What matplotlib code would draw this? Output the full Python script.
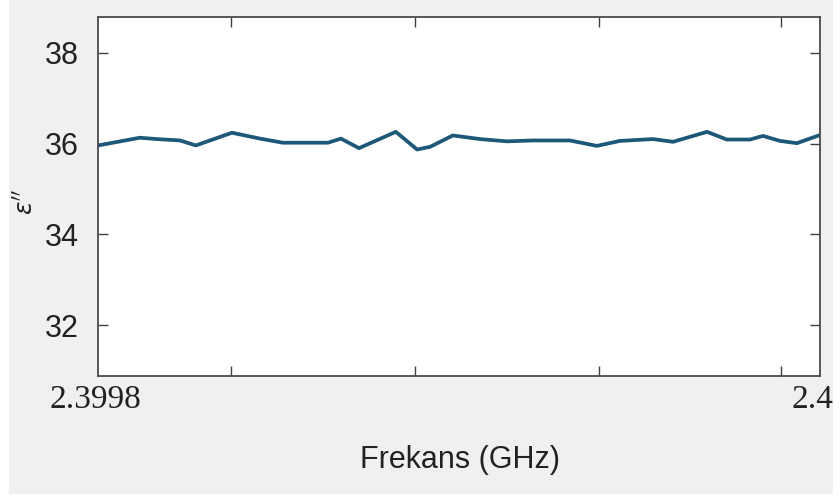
import matplotlib.pyplot as plt
from matplotlib.patches import Rectangle
from matplotlib.transforms import ScaledTranslation

# frequency sweep (GHz) and imaginary permittivity
freq_ghz = [2.3998, 2.3998116, 2.3998163, 2.3998227, 2.3998271, 2.3998371,
            2.3998449, 2.3998512, 2.3998637, 2.3998673, 2.3998723, 2.3998825,
            2.3998884, 2.399892, 2.3998983, 2.3999058, 2.3999133, 2.3999205,
            2.3999307, 2.3999382, 2.3999446, 2.3999537, 2.3999593, 2.3999687,
            2.3999742, 2.3999806, 2.3999842, 2.3999889, 2.3999936, 2.4]
eps_imag = [35.96, 36.13, 36.10, 36.07, 35.96, 36.24,
            36.11, 36.02, 36.02, 36.11, 35.90, 36.26,
            35.87, 35.93, 36.18, 36.10, 36.05, 36.07,
            36.07, 35.95, 36.06, 36.10, 36.04, 36.26,
            36.09, 36.09, 36.17, 36.06, 36.01, 36.19]

x_labels = ["2.3998", "2.4"]
x_label_pos = [2.3998, 2.4]
x_minor = [2.3998368, 2.3998878, 2.3999388, 2.3999892]
y_ticks = [32, 34, 36, 38]

fig = plt.figure(figsize=(8.4, 4.97), dpi=100)
fig.patch.set_facecolor("white")
fig.patches.append(Rectangle((9 / 840, 3 / 497), 824 / 840, 494 / 497,
                             transform=fig.transFigure, facecolor="#f0f0f0",
                             edgecolor="none", zorder=-10))

ax = fig.add_axes([98 / 840, 1 - 376 / 497, 722 / 840, 359 / 497])
ax.set_facecolor("white")
ax.plot(freq_ghz, eps_imag, color="#1d5878", linewidth=2.7)

ax.set_xlim(2.3998, 2.4)
ax.set_ylim(30.88, 38.79)

ax.set_yticks(y_ticks)
ax.set_yticklabels([str(v) for v in y_ticks], fontsize=22,
                   fontfamily="Liberation Sans", color="#222222")
ax.set_xticks(x_label_pos)
ax.set_xticklabels(x_labels, fontsize=24, fontfamily="Liberation Serif",
                   color="#222222")
ax.set_xticks(x_minor, minor=True)

ax.tick_params(axis="both", which="both", direction="in", top=True, right=True,
               length=7, width=1.0, color="#404040")
ax.tick_params(axis="x", which="major", length=0, pad=6)
ax.tick_params(axis="y", pad=14)

# nudge the end labels inward a little
for lbl, dx in zip(ax.get_xticklabels(), [-3, -8]):
    lbl.set_transform(lbl.get_transform() +
                      ScaledTranslation(dx / 100, 0, fig.dpi_scale_trans))

for sp in ax.spines.values():
    sp.set_color("#4a4a4a")
    sp.set_linewidth(1.3)

fig.text(460 / 840, 1 - 460 / 497, "Frekans (GHz)", fontsize=22,
         fontfamily="Liberation Sans", color="#222222", ha="center", va="center")
fig.text(26 / 840, 1 - 202 / 497, r"$\epsilon''$", fontsize=18, rotation=90,
         color="#222222", ha="center", va="center")

fig.savefig("out.png", dpi=100, facecolor=fig.get_facecolor())
